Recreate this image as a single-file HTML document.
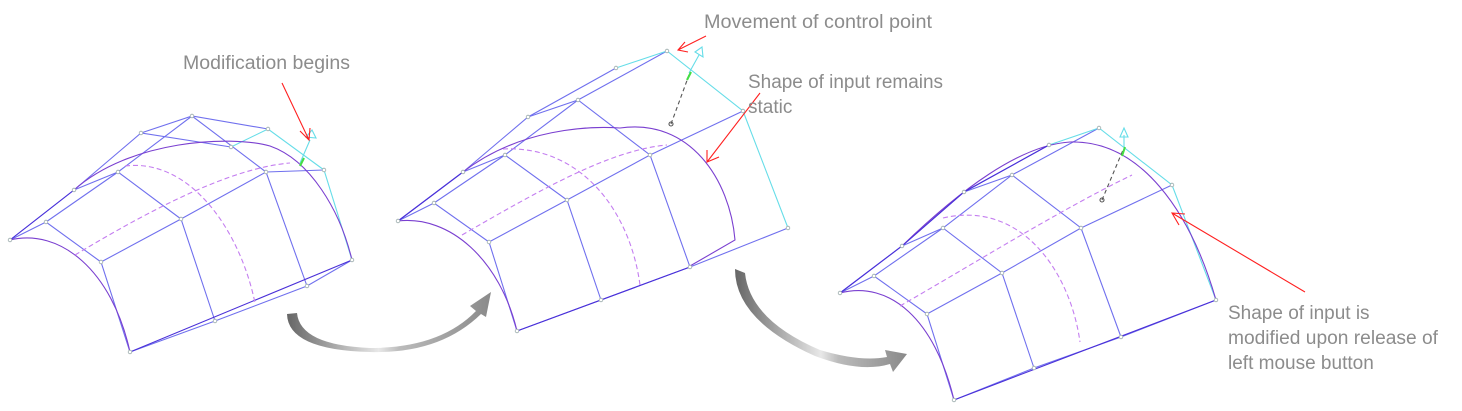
<!DOCTYPE html>
<html><head><meta charset="utf-8"><style>
html,body{margin:0;padding:0;background:#fff;}
svg{display:block;}
text{font-family:"Liberation Sans",sans-serif;font-size:19px;fill:#8c8c8c;}
</style></head><body>
<svg width="1462" height="411" viewBox="0 0 1462 411" xmlns="http://www.w3.org/2000/svg">
<defs>
<linearGradient id="g1" x1="0" y1="0" x2="1" y2="0"><stop offset="0" stop-color="#666"/><stop offset="0.45" stop-color="#e8e8e8"/><stop offset="0.55" stop-color="#bbb"/><stop offset="1" stop-color="#8a8a8a"/></linearGradient>
<linearGradient id="g2" x1="0" y1="0" x2="1" y2="0"><stop offset="0" stop-color="#666"/><stop offset="0.5" stop-color="#e8e8e8"/><stop offset="0.6" stop-color="#bbb"/><stop offset="1" stop-color="#8a8a8a"/></linearGradient>
</defs>

<path d="M287,314 L297,313 Q300,345 370,348 Q440,348 476,311 L470,306 L491,292 L486,317 L481,314 Q440,354 370,352 Q288,350 287,314 Z" fill="url(#g1)"/>
<path d="M735,269 L745,273 Q750,320 820,350 Q860,362 887,357 L885,350 L907,354 L893,372 L890,364 Q860,373 815,356 Q735,320 735,269 Z" fill="url(#g2)"/>

<g fill="none" stroke-width="1.1">
<g stroke="#7070ee">
<polyline points="10,240 46,222 101,262 130,352"/>
<polyline points="74,190 118,172 181,219 215,321"/>
<polyline points="141,133 192,116 266,172 307,286"/>
<polyline points="10,240 74,190 141,133 231,147"/>
<polyline points="46,222 118,172 192,116 268,129"/>
<polyline points="101,262 181,219 266,172 324,170"/>
<polyline points="130,352 215,321 307,286 352,260"/>
</g>
<polyline stroke="#66dde8" points="231,147 268,129 324,170 352,260"/>
<path stroke="#7a3fd0" d="M10,240 C60,228 112,270 130,352"/>
<path stroke="#7a3fd0" d="M74,190 C130,140 230,135 270,146 C310,160 340,210 352,260"/>
<path stroke="#4a30d8" d="M130,352 L352,260 M10,240 L74,190"/>
<path stroke="#c47ef0" stroke-dasharray="5,3" d="M75,255 C150,210 230,168 290,163"/>
<path stroke="#c47ef0" stroke-dasharray="5,3" d="M125,166 C190,158 240,230 255,303"/>
<path stroke="#66dde8" d="M300,163 L310,140 M306,137 L312,130 L316,138 Z"/>
<path stroke="#44dd44" stroke-width="2" d="M300,166 L304,158"/>
<path stroke="#ff2020" d="M282,83 L309,140 M300,131 L309,140 L310,128"/>

<g stroke="#7070ee">
<polyline points="398,221 434,203 489,242 517,331"/>
<polyline points="463,172 505,155 567,200 601,300"/>
<polyline points="528,117 578,100 650,155 690,267"/>
<polyline points="398,221 463,172 528,117 616,68"/>
<polyline points="434,203 505,155 578,100 667,51"/>
<polyline points="489,242 567,200 650,155 743,111"/>
<polyline points="517,331 601,300 690,267 788,228"/>
</g>
<polyline stroke="#66dde8" points="616,68 667,51 743,111 788,228"/>
<path stroke="#7a3fd0" d="M398,221 C450,215 500,260 517,331"/>
<path stroke="#7a3fd0" d="M463,172 C520,128 590,126 620,128 C690,118 730,180 735,240 L690,266"/>
<path stroke="#4a30d8" d="M517,331 L690,267 M398,221 L463,172"/>
<path stroke="#c47ef0" stroke-dasharray="5,3" d="M462,235 C540,190 610,150 667,145"/>
<path stroke="#c47ef0" stroke-dasharray="5,3" d="M503,149 C580,145 630,210 640,285"/>
<path stroke="#555" stroke-dasharray="4,3" d="M671,124 L689,75"/>
<circle cx="671" cy="124" r="2" stroke="#555"/>
<path stroke="#66dde8" d="M689,73 L699,55 M695,52 L702,47 L703,57 Z"/>
<path stroke="#44dd44" stroke-width="2" d="M687,80 L691,72"/>
<path stroke="#ff2020" d="M706,36 L678,50 M688,52 L678,50 L685,42"/>
<path stroke="#ff2020" d="M760,93 L707,162 M707,150 L707,162 L719,157"/>

<g stroke="#7070ee">
<polyline points="840,293 874,276 927,314 954,400"/>
<polyline points="902,246 943,228 1002,273 1034,368"/>
<polyline points="964,192 1012,175 1081,228 1121,337"/>
<polyline points="840,293 902,246 964,192 1049,145"/>
<polyline points="874,276 943,228 1012,175 1099,128"/>
<polyline points="927,314 1002,273 1081,228 1172,185"/>
<polyline points="954,400 1034,368 1121,337 1216,300"/>
</g>
<polyline stroke="#66dde8" points="1049,145 1099,128 1172,185 1216,300"/>
<path stroke="#7a3fd0" d="M840,293 C890,280 935,320 954,400"/>
<path stroke="#7a3fd0" d="M902,246 C960,190 1020,145 1070,142 C1140,140 1190,210 1216,300"/>
<path stroke="#4a30d8" d="M954,400 L1216,300 M840,293 L902,246 L964,192 L1049,145"/>
<path stroke="#c47ef0" stroke-dasharray="5,3" d="M900,306 C980,260 1060,210 1132,175"/>
<path stroke="#c47ef0" stroke-dasharray="5,3" d="M943,218 C1020,200 1070,270 1080,342"/>
<path stroke="#555" stroke-dasharray="4,3" d="M1102,200 L1123,150"/>
<circle cx="1102" cy="200" r="2" stroke="#555"/>
<path stroke="#66dde8" d="M1124,150 L1124,135 M1120,137 L1124,128 L1128,137 Z"/>
<path stroke="#44dd44" stroke-width="2" d="M1122,156 L1125,147"/>
<path stroke="#ff2020" d="M1305,292 L1172,213 M1185,214 L1172,213 L1179,225"/>
</g>

<g fill="#fff" stroke="#9aa" stroke-width="0.8">
<circle cx="10" cy="240" r="1.8"/><circle cx="46" cy="222" r="1.8"/><circle cx="101" cy="262" r="1.8"/><circle cx="130" cy="352" r="1.8"/>
<circle cx="74" cy="190" r="1.8"/><circle cx="118" cy="172" r="1.8"/><circle cx="181" cy="219" r="1.8"/><circle cx="215" cy="321" r="1.8"/>
<circle cx="141" cy="133" r="1.8"/><circle cx="192" cy="116" r="1.8"/><circle cx="266" cy="172" r="1.8"/><circle cx="307" cy="286" r="1.8"/>
<circle cx="231" cy="147" r="1.8"/><circle cx="268" cy="129" r="1.8"/><circle cx="324" cy="170" r="1.8"/><circle cx="352" cy="260" r="1.8"/>
<circle cx="398" cy="221" r="1.8"/><circle cx="434" cy="203" r="1.8"/><circle cx="489" cy="242" r="1.8"/><circle cx="517" cy="331" r="1.8"/>
<circle cx="463" cy="172" r="1.8"/><circle cx="505" cy="155" r="1.8"/><circle cx="567" cy="200" r="1.8"/><circle cx="601" cy="300" r="1.8"/>
<circle cx="528" cy="117" r="1.8"/><circle cx="578" cy="100" r="1.8"/><circle cx="650" cy="155" r="1.8"/><circle cx="690" cy="267" r="1.8"/>
<circle cx="616" cy="68" r="1.8"/><circle cx="667" cy="51" r="1.8"/><circle cx="743" cy="111" r="1.8"/><circle cx="788" cy="228" r="1.8"/>
<circle cx="840" cy="293" r="1.8"/><circle cx="874" cy="276" r="1.8"/><circle cx="927" cy="314" r="1.8"/><circle cx="954" cy="400" r="1.8"/>
<circle cx="902" cy="246" r="1.8"/><circle cx="943" cy="228" r="1.8"/><circle cx="1002" cy="273" r="1.8"/><circle cx="1034" cy="368" r="1.8"/>
<circle cx="964" cy="192" r="1.8"/><circle cx="1012" cy="175" r="1.8"/><circle cx="1081" cy="228" r="1.8"/><circle cx="1121" cy="337" r="1.8"/>
<circle cx="1049" cy="145" r="1.8"/><circle cx="1099" cy="128" r="1.8"/><circle cx="1172" cy="185" r="1.8"/><circle cx="1216" cy="300" r="1.8"/>
</g>

<text x="183" y="69" textLength="167" lengthAdjust="spacingAndGlyphs">Modification begins</text>
<text x="704" y="28" textLength="228" lengthAdjust="spacingAndGlyphs">Movement of control point</text>
<text x="748" y="88" textLength="195" lengthAdjust="spacingAndGlyphs">Shape of input remains</text>
<text x="748" y="113">static</text>
<text x="1228" y="319">Shape of input is</text>
<text x="1228" y="344" textLength="210" lengthAdjust="spacingAndGlyphs">modified upon release of</text>
<text x="1228" y="369">left mouse button</text>
</svg>
</body></html>
